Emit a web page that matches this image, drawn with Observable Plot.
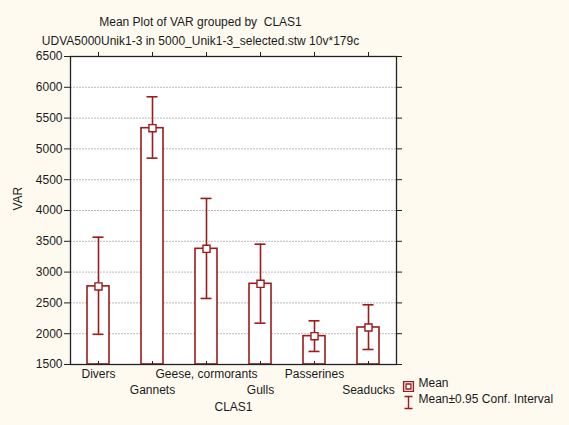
<!DOCTYPE html>
<html>
<head>
<meta charset="utf-8">
<script src="https://cdn.jsdelivr.net/npm/d3@7"></script>
<script src="https://cdn.jsdelivr.net/npm/@observablehq/plot@0.6"></script>
<style>
  html, body { margin: 0; padding: 0; background: #fffaf0; }
  body { width: 569px; height: 425px; overflow: hidden; }
  svg { display: block; }
</style>
</head>
<body>
<div id="chart"></div>
<script>
const categories = ["Divers", "Gannets", "Geese, cormorants", "Gulls", "Passerines", "Seaducks"];
const means = [2768, 5336, 3378, 2810, 1960, 2101];
const lower = [1990, 4850, 2572, 2171, 1712, 1744];
const upper = [3567, 5846, 4196, 3453, 2209, 2469];
const yTicks = [1500, 2000, 2500, 3000, 3500, 4000, 4500, 5000, 5500, 6000, 6500];
const yDomain = [1500, 6500];
const title = "Mean Plot of VAR grouped by  CLAS1";
const subtitle = "UDVA5000Unik1-3 in 5000_Unik1-3_selected.stw 10v*179c";
const xLabel = "CLAS1";
const yLabel = "VAR";
const legendMean = "Mean";
const legendCI = "Mean±0.95 Conf. Interval";

const data = categories.map((c, i) => ({cat: c, mean: means[i], lo: lower[i], hi: upper[i], idx: i}));

const red = "#9a1c1c";
const font = "'Liberation Sans', Arial, sans-serif";
const fs = 12;

const whiskerSymbol = {
  draw(context, size) {
    const h = 6, w = 4;
    context.moveTo(0, -h); context.lineTo(0, h);
    context.moveTo(-w, -h); context.lineTo(w, -h);
    context.moveTo(-w, h); context.lineTo(w, h);
  }
};
const noLabel = () => "";

const chart = Plot.plot({
  width: 569,
  height: 425,
  marginLeft: 70,
  marginRight: 173,
  marginTop: 56,
  marginBottom: 61,
  style: {fontFamily: font, fontSize: fs + "px", background: "transparent", color: "#1a1a1a", overflow: "visible"},
  x: {type: "band", domain: categories, padding: 0, axis: null, label: null},
  y: {domain: yDomain, axis: null, label: null},
  marks: [
    Plot.frame({fill: "white", stroke: "none"}),
    Plot.gridY(yTicks.slice(1, -1), {stroke: "#aaa", strokeOpacity: 0.8, strokeDasharray: "2,1"}),
    Plot.barY(data, {x: "cat", y1: yDomain[0], y2: "mean", fill: "white", stroke: red, strokeWidth: 1.6, insetLeft: 16, insetRight: 16}),
    Plot.ruleX(data, {x: "cat", y1: "lo", y2: "hi", stroke: red, strokeWidth: 1.6}),
    Plot.tickY(data, {x: "cat", y: "hi", stroke: red, strokeWidth: 1.6, insetLeft: 21.5, insetRight: 21.5}),
    Plot.tickY(data, {x: "cat", y: "lo", stroke: red, strokeWidth: 1.6, insetLeft: 21.5, insetRight: 21.5}),
    Plot.dot(data, {x: "cat", y: "mean", symbol: "square", r: 4, fill: "white", stroke: red, strokeWidth: 1.4}),
    Plot.frame({stroke: "#222", strokeWidth: 1.3}),
    Plot.axisY(yTicks, {anchor: "left", label: null, tickSize: 6, tickPadding: 2, stroke: "#222", fontSize: fs, tickFormat: d => String(d)}),
    Plot.axisY(yTicks, {anchor: "right", label: null, tickSize: 5, tickFormat: noLabel, stroke: "#222"}),
    Plot.axisX(categories, {anchor: "top", label: null, tickSize: 5, tickFormat: noLabel, stroke: "#222"}),
    Plot.axisX(categories, {anchor: "bottom", label: null, tickSize: -3, tickFormat: noLabel, stroke: "#222"}),
    Plot.text(categories.filter((d, i) => i % 2 === 0), {x: d => d, frameAnchor: "bottom", dy: 13, fontSize: fs, fill: "#1a1a1a"}),
    Plot.text(categories.filter((d, i) => i % 2 === 1), {x: d => d, frameAnchor: "bottom", dy: 29, fontSize: fs, fill: "#1a1a1a"}),
    Plot.text([xLabel], {frameAnchor: "bottom", dx: 0, dy: 46, fontSize: fs, fill: "#1a1a1a"}),
    Plot.text([yLabel], {frameAnchor: "left", dx: -52, dy: 0, rotate: -90, fontSize: fs, fill: "#1a1a1a"}),
    Plot.text([title], {frameAnchor: "top", dx: -33, dy: -39, fontSize: fs, fill: "#1a1a1a"}),
    Plot.text([subtitle], {frameAnchor: "top", dx: -33, dy: -20, fontSize: fs, fill: "#1a1a1a"}),
    Plot.dot([legendMean], {frameAnchor: "bottom-right", dx: 12, dy: 22, symbol: "square", r: 5.5, fill: "white", stroke: red, strokeWidth: 1.4}),
    Plot.dot([legendMean], {frameAnchor: "bottom-right", dx: 12, dy: 22, symbol: "square", r: 2.8, fill: "white", stroke: red, strokeWidth: 1.3}),
    Plot.text([legendMean], {frameAnchor: "bottom-right", dx: 22, dy: 22, textAnchor: "start", fontSize: fs, fill: "#1a1a1a"}),
    Plot.dot([legendCI], {frameAnchor: "bottom-right", dx: 12, dy: 38, symbol: whiskerSymbol, r: 4, fill: "none", stroke: red, strokeWidth: 1.4}),
    Plot.text([legendCI], {frameAnchor: "bottom-right", dx: 22, dy: 38, textAnchor: "start", fontSize: fs, fill: "#1a1a1a"})
  ]
});
document.getElementById("chart").appendChild(chart);
</script>
</body>
</html>
